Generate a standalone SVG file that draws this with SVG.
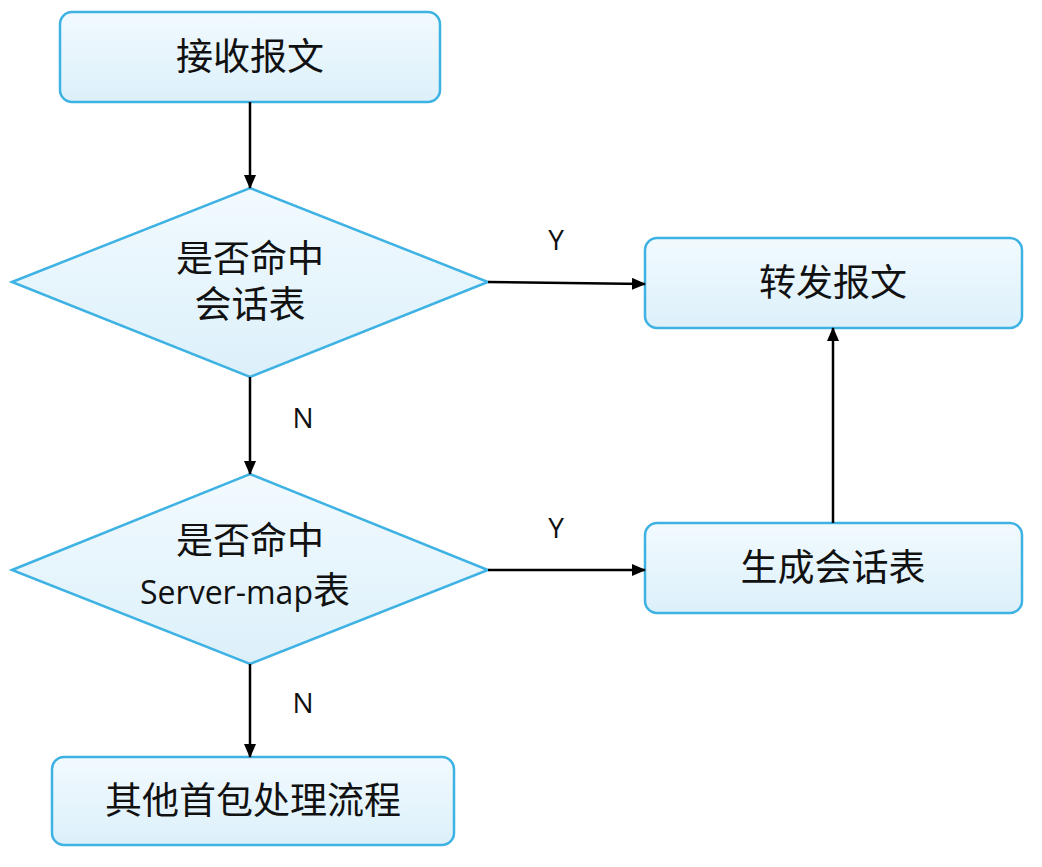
<svg xmlns="http://www.w3.org/2000/svg" width="1042" height="867" viewBox="0 0 1042 867">
<defs>
<linearGradient id="g" x1="0" y1="0" x2="0" y2="1"><stop offset="0" stop-color="#f2fafe"/><stop offset="1" stop-color="#dcf0fa"/></linearGradient>
<marker id="a" markerWidth="14" markerHeight="12" refX="13" refY="6" orient="auto" markerUnits="userSpaceOnUse" viewBox="0 0 14 12"><path d="M0,0 L14,6 L0,12 z" fill="#000"/></marker>
<style>
.n{fill:url(#g);stroke:#3db2e3;stroke-width:2.5}
.t{font-family:"Liberation Sans","Noto Sans CJK SC",sans-serif;font-size:37px;text-anchor:middle;fill:#111}
.s{font-family:"Open Sans","Liberation Sans",sans-serif;font-size:28px;text-anchor:middle;fill:#111}
.c{stroke:#000;stroke-width:2.5;fill:none;marker-end:url(#a)}
</style>
</defs>
<rect width="1042" height="867" fill="#fff"/>
<g id="n1"><rect class="n" x="60" y="12" width="380" height="90" rx="12"/><text class="t" x="250" y="70">接收报文</text></g>
<g id="d1"><polygon class="n" points="12,282 250,188 488,282 250,377"/><text class="t" x="250" y="272">是否命中</text><text class="t" x="250" y="318">会话表</text></g>
<g id="n2"><rect class="n" x="645" y="238" width="377" height="90" rx="12"/><text class="t" x="833" y="296">转发报文</text></g>
<g id="d2"><polygon class="n" points="12,570 250,474 488,570 250,664"/><text class="t" x="250" y="554">是否命中</text><text class="s" x="245" y="604" style="font-size:32px">Server-map<tspan style="font-family:'Noto Sans CJK SC',sans-serif;font-size:37px">表</tspan></text></g>
<g id="n3"><rect class="n" x="645" y="523" width="377" height="90" rx="12"/><text class="t" x="833" y="581">生成会话表</text></g>
<g id="n4"><rect class="n" x="52" y="757" width="402" height="88" rx="12"/><text class="t" x="253" y="814">其他首包处理流程</text></g>
<g id="connectors">
<line class="c" x1="250" y1="102" x2="250" y2="188"/>
<line class="c" x1="250" y1="377" x2="250" y2="474"/>
<line class="c" x1="488" y1="282" x2="645" y2="284"/>
<line class="c" x1="488" y1="570" x2="645" y2="570"/>
<line class="c" x1="833" y1="523" x2="833" y2="328"/>
<line class="c" x1="250" y1="664" x2="250" y2="757"/>
<text class="s" x="556" y="250">Y</text>
<text class="s" x="303" y="428">N</text>
<text class="s" x="556" y="538">Y</text>
<text class="s" x="303" y="713">N</text>
</g>
</svg>
